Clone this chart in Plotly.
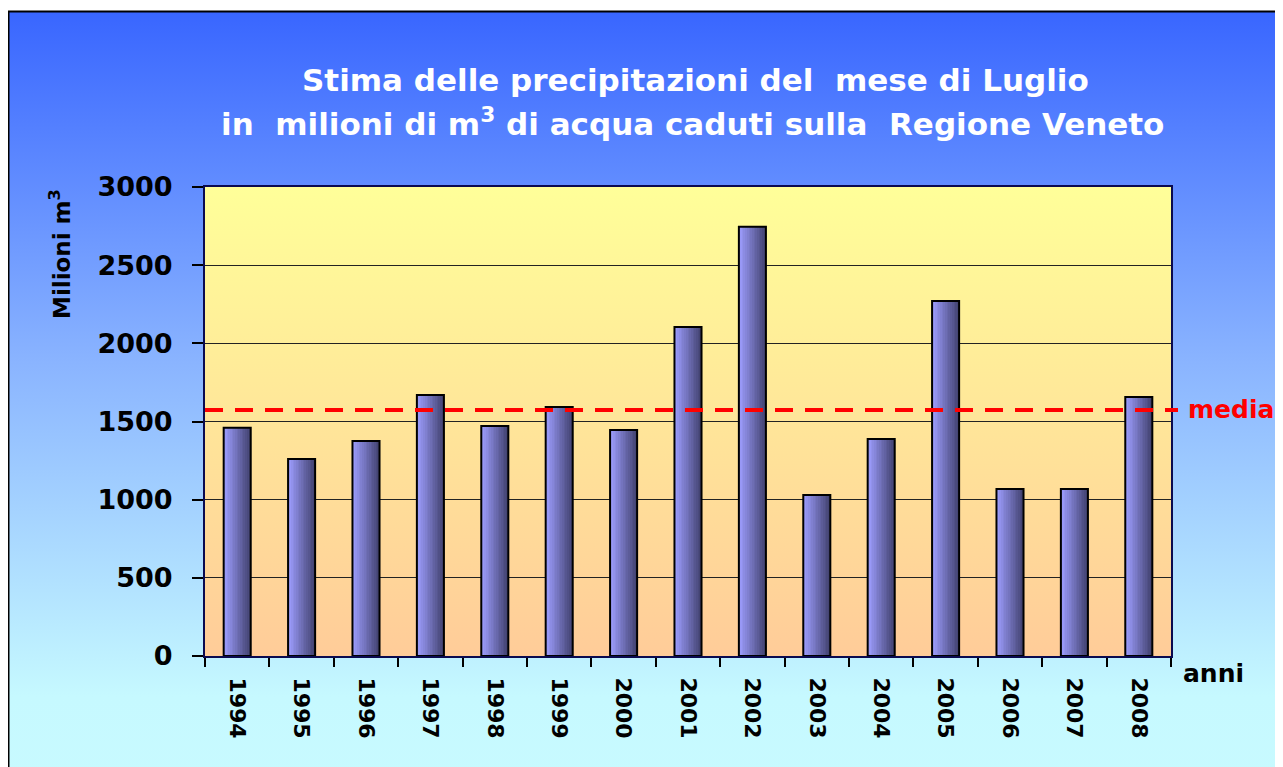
import base64
import plotly.graph_objects as go

years = ["1994", "1995", "1996", "1997", "1998", "1999", "2000", "2001",
         "2002", "2003", "2004", "2005", "2006", "2007", "2008"]
values = [1460, 1260, 1375, 1670, 1471, 1593, 1446, 2105,
          2745, 1030, 1388, 2271, 1068, 1068, 1657]
media = sum(values) / len(values)

FONT = "DejaVu Sans"
OFF = 8  # page body margin
W, H = 1283 - OFF, 767 - OFF
# plot area in reference page pixels
RL, RR, RT, RB = 205, 1171, 187, 656
PW, PH = RR - RL, RB - RT


def px_x(p):
    return (p - RL) / PW


def px_y(p):
    return (RB - p) / PH


def grad_uri(stops):
    st = "".join(f'<stop offset="{o}" stop-color="{c}"/>' for o, c in stops)
    svg = ('<svg xmlns="http://www.w3.org/2000/svg" width="100" height="100" '
           'viewBox="0 0 100 100" preserveAspectRatio="none"><defs>'
           f'<linearGradient id="g" x1="0" y1="0" x2="0" y2="1">{st}</linearGradient>'
           '</defs><rect width="100" height="100" fill="url(#g)"/></svg>')
    return "data:image/svg+xml;base64," + base64.b64encode(svg.encode()).decode()


paper_grad = grad_uri([(0, "#3966ff"), (0.45, "#8ab4ff"), (0.88, "#c6f9ff"), (1, "#c8faff")])
plot_grad = grad_uri([(0, "#ffff99"), (1, "#ffcc99")])

fig = go.Figure()

# bars with horizontal shading, built from thin strips
bw = 0.42
N = 16
c0 = (158, 158, 255)
c1 = (68, 68, 115)
for i in range(N):
    t = i / (N - 1)
    col = tuple(round(a + (b - a) * t) for a, b in zip(c0, c1))
    fig.add_trace(go.Bar(
        x=years, y=values,
        width=bw / N * 1.08,
        offset=-bw / 2 + i * bw / N,
        marker=dict(color=f"rgb{col}", line=dict(width=0)),
        showlegend=False, hoverinfo="skip",
    ))
# outline
fig.add_trace(go.Bar(
    x=years, y=values, width=bw, offset=-bw / 2,
    marker=dict(color="rgba(0,0,0,0)", line=dict(color="#000000", width=2)),
    showlegend=False,
))

fig.update_layout(
    width=W, height=H,
    margin=dict(l=RL - OFF, r=W - (RR - OFF), t=RT - OFF, b=H - (RB - OFF), pad=0),
    paper_bgcolor="white",
    plot_bgcolor="rgba(0,0,0,0)",
    barmode="overlay",
    font=dict(family=FONT, color="black"),
    images=[
        dict(source=paper_grad, xref="paper", yref="paper",
             x=px_x(9), y=px_y(12), sizex=(1281 - 9) / PW, sizey=(790 - 12) / PH,
             sizing="stretch", xanchor="left", yanchor="top", layer="below"),
        dict(source=plot_grad, xref="paper", yref="paper",
             x=0, y=1, sizex=1, sizey=1,
             sizing="stretch", xanchor="left", yanchor="top", layer="below"),
    ],
    shapes=[
        dict(type="rect", xref="paper", yref="paper",
             x0=px_x(8.5), x1=px_x(1281), y0=px_y(800), y1=px_y(11.5),
             line=dict(color="black", width=2), layer="above"),
        dict(type="line", xref="paper", yref="y",
             x0=0, x1=px_x(1178), y0=media, y1=media,
             line=dict(color="#ff0000", width=4, dash="18px,12px"), layer="above"),
    ],
    annotations=[
        dict(text="Stima delle precipitazioni del  mese di Luglio",
             xref="paper", yref="paper", x=px_x(695), y=px_y(80),
             xanchor="center", yanchor="middle", showarrow=False,
             font=dict(family=FONT, size=31, color="white", weight="bold")),
        dict(text="in  milioni di m<sup>3</sup> di acqua caduti sulla  Regione Veneto",
             xref="paper", yref="paper", x=px_x(692), y=px_y(122),
             xanchor="center", yanchor="middle", showarrow=False,
             font=dict(family=FONT, size=31, color="white", weight="bold")),
        dict(text="Milioni m<sup>3</sup>",
             xref="paper", yref="paper", x=px_x(60), y=px_y(254),
             xanchor="center", yanchor="middle", showarrow=False, textangle=-90,
             font=dict(family=FONT, size=23, color="black", weight="bold")),
        dict(text="anni",
             xref="paper", yref="paper", x=px_x(1213), y=px_y(673),
             xanchor="center", yanchor="middle", showarrow=False,
             font=dict(family=FONT, size=25, color="black", weight="bold")),
        dict(text="media",
             xref="paper", yref="y", x=px_x(1186), y=media,
             xanchor="left", yanchor="middle", showarrow=False,
             font=dict(family=FONT, size=25, color="#ff0000", weight="bold")),
    ],
)

fig.update_xaxes(
    type="category", range=[-0.5, len(years) - 0.5],
    showline=True, linecolor="#0a0a50", linewidth=2, mirror=True,
    ticks="outside", tickson="boundaries", ticklen=9, tickcolor="black", tickwidth=1.5,
    tickangle=90, ticklabelstandoff=15,
    tickfont=dict(family=FONT, size=22, color="black", weight="bold"),
    showgrid=False,
)
fig.update_yaxes(
    range=[0, 3000], dtick=500, tick0=0,
    showline=True, linecolor="#0a0a50", linewidth=2, mirror=True,
    ticks="outside", ticklen=11, tickcolor="black", tickwidth=1.5,
    ticklabelstandoff=14,
    tickfont=dict(family=FONT, size=27, color="black", weight="bold"),
    showgrid=True, gridcolor="#222222", gridwidth=1, zeroline=False,
)

fig.write_html("out.html")
